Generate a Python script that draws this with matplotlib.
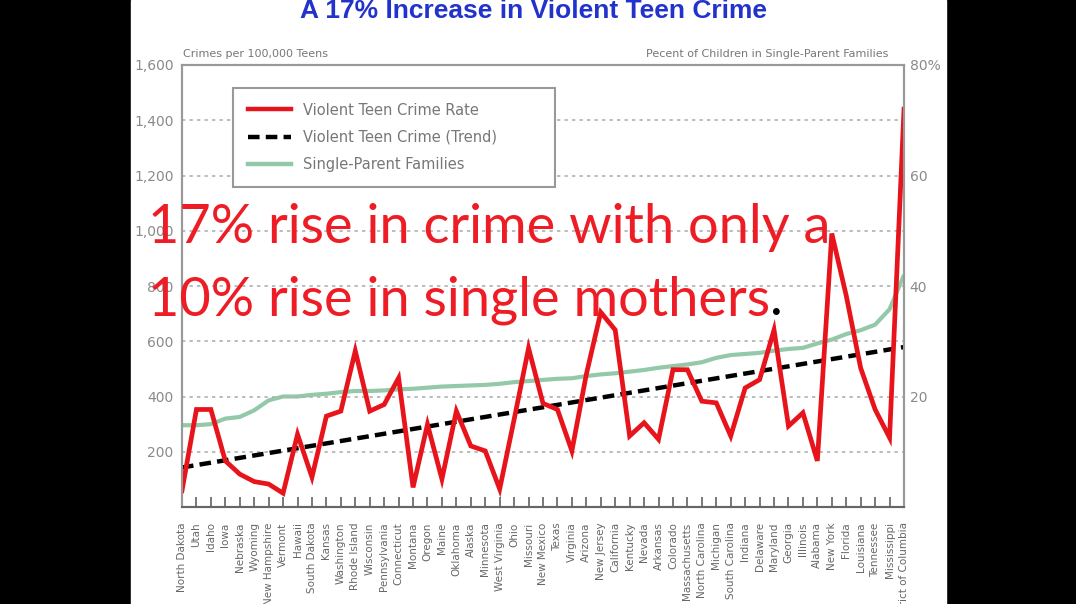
import numpy as np
import matplotlib
matplotlib.use("Agg")
import matplotlib.pyplot as plt
from matplotlib.patches import Rectangle
from matplotlib.lines import Line2D
from matplotlib.ticker import FuncFormatter


states = ["North Dakota", "Utah", "Idaho", "Iowa", "Nebraska", "Wyoming",
          "New Hampshire", "Vermont", "Hawaii", "South Dakota", "Kansas",
          "Washington", "Rhode Island", "Wisconsin", "Pennsylvania",
          "Connecticut", "Montana", "Oregon", "Maine", "Oklahoma", "Alaska",
          "Minnesota", "West Virginia", "Ohio", "Missouri", "New Mexico",
          "Texas", "Virginia", "Arizona", "New Jersey", "California",
          "Kentucky", "Nevada", "Arkansas", "Colorado", "Massachusetts",
          "North Carolina", "Michigan", "South Carolina", "Indiana",
          "Delaware", "Maryland", "Georgia", "Illinois", "Alabama",
          "New York", "Florida", "Louisiana", "Tennessee", "Mississippi",
          "District of Columbia"]

# crimes per 100,000 teens
crime_rate = [59, 353, 353, 167, 119, 92, 83, 50, 263, 108, 329, 347, 565,
              347, 371, 467, 71, 299, 101, 347, 221, 203, 65, 317, 575, 375,
              353, 203, 480, 705, 641, 257, 305, 245, 497, 497, 383, 377,
              257, 431, 461, 641, 293, 341, 167, 990, 765, 503, 353, 251,
              1440]

# percent of children in single-parent families
single_parent = [14.8, 14.8, 15.0, 16.0, 16.3, 17.5, 19.3, 20.0, 20.0, 20.3,
                 20.5, 20.8, 21.0, 21.0, 21.1, 21.3, 21.4, 21.6, 21.8, 21.9,
                 22.0, 22.1, 22.3, 22.6, 22.8, 23.0, 23.2, 23.3, 23.7, 24.0,
                 24.2, 24.5, 24.8, 25.2, 25.5, 25.8, 26.2, 27.0, 27.5, 27.7,
                 27.9, 28.3, 28.6, 28.8, 29.6, 30.3, 31.3, 32.0, 33.0, 35.8,
                 42.0]

# trend line end points (crimes per 100,000)
trend_ends = [143, 579]

left_ticks = [200, 400, 600, 800, 1000, 1200, 1400, 1600]
right_ticks = [20, 40, 60, 80]
right_labels = ["20", "40", "60", "80%"]

red = "#e8141c"
green = "#93c9a8"
gray = "#8a8a8a"

W, H = 1076, 604
fig = plt.figure(figsize=(W / 100, H / 100), dpi=100, facecolor="black")
fig.patches.append(Rectangle((131 / W, 0), (946 - 131) / W, 1,
                             transform=fig.transFigure, color="white",
                             zorder=-5))

ax = fig.add_axes([182 / W, 1 - 507 / H, (904 - 182) / W, (507 - 65) / H])
ax2 = ax.twinx()
ax.set_zorder(ax2.get_zorder() + 1)
ax.patch.set_visible(False)
ax2.patch.set_visible(False)

x = np.arange(len(states))

ax2.plot(x, single_parent, color=green, lw=3, solid_capstyle="butt")
ax.plot([x[0], x[-1]], trend_ends, color="black", lw=3.2,
        linestyle=(0, (2.6, 1.4)))
ax.plot(x, crime_rate, color=red, lw=3.4, solid_joinstyle="miter")

ax.set_xlim(0, len(states) - 1)
ax.set_ylim(0, 1600)
ax2.set_ylim(0, 80)

ax.set_yticks(left_ticks)
ax.yaxis.set_major_formatter(FuncFormatter(lambda v, p: f"{v:,.0f}"))
ax.tick_params(axis="y", length=0, pad=6, labelsize=10, labelcolor=gray)
ax.grid(axis="y", color="#b0b0b0", lw=1.2, linestyle=(0, (2, 2.5)))

ax2.set_yticks(right_ticks)
ax2.set_yticklabels(right_labels)
ax2.tick_params(axis="y", length=0, pad=4, labelsize=10, labelcolor=gray)

ax.set_xticks(x)
ax.set_xticklabels(states, rotation=90, fontsize=7.5, color="#666666",
                   va="top", ha="center")
ax.tick_params(axis="x", direction="in", length=7, width=1.1,
               color="#555555", pad=11)

for a in (ax, ax2):
    for s in a.spines.values():
        s.set_color("#999999")
        s.set_linewidth(1.5)
ax.spines["bottom"].set_color("#666666")

handles = [Line2D([], [], color=red, lw=3.2),
           Line2D([], [], color="black", lw=3.2, linestyle=(0, (2.6, 1.4))),
           Line2D([], [], color=green, lw=3.2)]
labels = ["Violent Teen Crime Rate", "Violent Teen Crime (Trend)",
          "Single-Parent Families"]
leg = ax.legend(handles, labels, loc="upper left",
                bbox_to_anchor=(51 / 722, 1 - 23 / 442, 322 / 722, 0.0),
                mode="expand", borderaxespad=0, fancybox=False,
                edgecolor="#999999", framealpha=1, fontsize=10.5,
                labelcolor="#777777", handlelength=3.0, handletextpad=0.8,
                labelspacing=0.85, borderpad=1.0)
leg.get_frame().set_linewidth(1.5)
leg.set_zorder(5)

fig.text(183 / W, 1 - 57 / H, "Crimes per 100,000 Teens", fontsize=8,
         color="#777777", va="baseline", ha="left")
fig.text(888 / W, 1 - 57 / H, "Pecent of Children in Single-Parent Families",
         fontsize=8, color="#777777", va="baseline", ha="right")

fig.text(533 / W, 1 - 11 / H, "A 17% Increase in Violent Teen Crime",
         fontsize=19, fontweight="bold", color="#2233cc",
         family=["Liberation Sans Narrow", "Liberation Sans", "DejaVu Sans"],
         ha="center", va="center")

t1 = fig.text(148 / W, 1 - 243 / H, "17% rise in crime with only a",
              fontsize=39, color="#ee1c25", family="Lato", va="baseline")
t2 = fig.text(148 / W, 1 - 315 / H, "10% rise in single mothers",
              fontsize=39, color="#ee1c25", family="Lato", va="baseline")
ax.annotate(".", xy=(1, 1 - 315 / H), xycoords=(t2, "figure fraction"),
            fontsize=39, color="black", family="Lato", va="baseline",
            ha="left", annotation_clip=False)

fig.savefig("out.png", dpi=100, facecolor=fig.get_facecolor())
